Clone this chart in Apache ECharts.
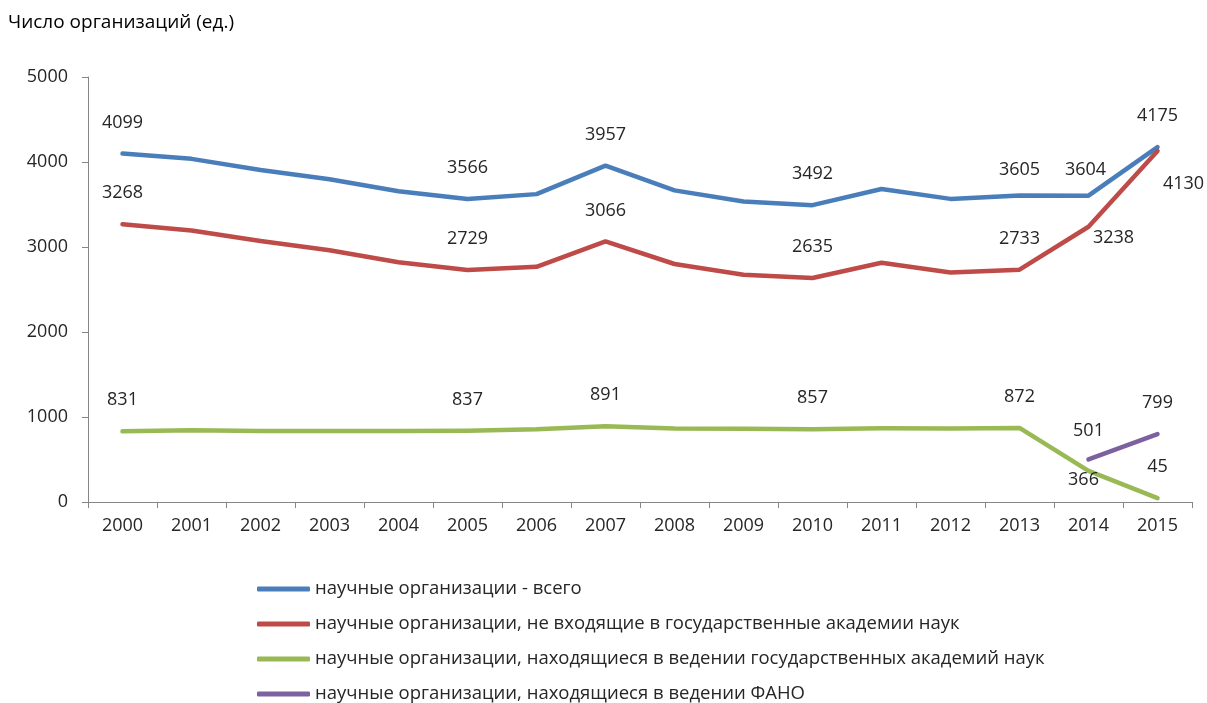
<!DOCTYPE html>
<html>
<head>
<meta charset="utf-8">
<script src="https://cdn.jsdelivr.net/npm/echarts@6/dist/echarts.min.js"></script>
<style>
html,body{margin:0;padding:0;background:#fff;}
#c{width:1207px;height:703px;}
</style>
</head>
<body>
<div id="c"></div>
<script>
const years = ['2000','2001','2002','2003','2004','2005','2006','2007','2008','2009','2010','2011','2012','2013','2014','2015'];
const seriesNames = [
  'научные организации - всего',
  'научные организации, не входящие в государственные академии наук',
  'научные организации, находящиеся в ведении государственных академий наук',
  'научные организации, находящиеся в ведении ФАНО'
];
const totalOrgs   = [4099,4037,3906,3797,3656,3566,3622,3957,3666,3536,3492,3682,3566,3605,3604,4175];
const nonAcademy  = [3268,3194,3070,2961,2820,2729,2767,3066,2800,2674,2635,2814,2701,2733,3238,4130];
const academy     = [831,843,836,836,836,837,855,891,866,862,857,868,865,872,366,45];
const fano        = [null,null,null,null,null,null,null,null,null,null,null,null,null,null,501,799];
const labeledYears = ['2000','2005','2007','2010','2013','2014','2015'];
const yTicks = [0,1000,2000,3000,4000,5000];

const FONT = 'Open Sans';
const TXT = '#262626';

function makeData(values, offsets){
  return values.map((v,i)=>{
    const show = v !== null && labeledYears.indexOf(years[i]) >= 0;
    const off = (offsets && offsets[years[i]]) || [0,-31];
    return {
      value: v,
      label: {show: show, position: 'inside', offset: off, color: TXT,
              fontSize: 18, fontFamily: FONT, formatter: '{c}'}
    };
  });
}

const colors = ['#4a7ebb','#be4b48','#98b954','#7d60a0'];
const seriesData = [
  makeData(totalOrgs, {'2013':[0,-26],'2014':[-3,-26]}),
  makeData(nonAcademy, {'2014':[25,11],'2015':[26,33]}),
  makeData(academy, {'2014':[-5,9]}),
  makeData(fano, {'2014':[0,-29]})
];

const chart = echarts.init(document.getElementById('c'), null, {renderer:'canvas'});
chart.setOption({
  animation: false,
  color: colors,
  title: {
    text: 'Число организаций (ед.)',
    left: 3, top: 8,
    textStyle: {fontFamily: FONT, fontSize: 19, fontWeight: 'normal', color: '#000'}
  },
  grid: {left: 88, right: 15, top: 77, bottom: 201, containLabel: false},
  legend: {
    orient: 'vertical', left: 252, top: 574, height: 140,
    itemWidth: 53, itemHeight: 5, itemGap: 15,
    icon: 'roundRect',
    textStyle: {fontFamily: FONT, fontSize: 18.5, color: TXT, lineHeight: 20},
    data: seriesNames
  },
  xAxis: {
    type: 'category', data: years, boundaryGap: true,
    axisLine: {lineStyle: {color: '#868686', width: 1}},
    axisTick: {show: true, length: 6, lineStyle: {color: '#868686'}},
    axisLabel: {margin: 15, fontFamily: FONT, fontSize: 18, color: TXT}
  },
  yAxis: {
    type: 'value', min: yTicks[0], max: yTicks[yTicks.length-1], interval: 1000,
    axisLine: {show: true, lineStyle: {color: '#868686', width: 1}},
    axisTick: {show: true, length: 6, lineStyle: {color: '#868686'}},
    splitLine: {show: false},
    axisLabel: {margin: 20, fontFamily: FONT, fontSize: 18, color: TXT, formatter: v => String(v)}
  },
  series: seriesNames.map((n,i)=>({
    name: n, type: 'line', data: seriesData[i],
    symbol: 'circle', symbolSize: 0, showSymbol: true,
    lineStyle: {width: 4.5, color: colors[i], cap: 'round', join: 'round'},
    itemStyle: {color: colors[i]},
    connectNulls: false
  }))
});
</script>
</body>
</html>
